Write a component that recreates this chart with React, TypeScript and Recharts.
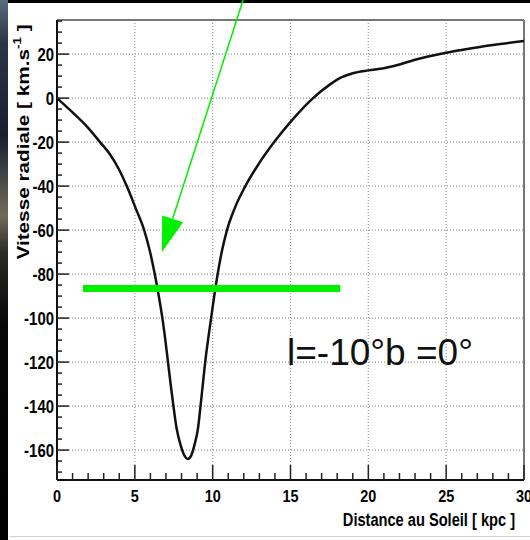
import React from 'react';
import { LineChart, Line, XAxis, YAxis, CartesianGrid, ReferenceLine, Customized } from 'recharts';

// Distance au Soleil (kpc)
const distance = [
  0, 1.0, 2.0, 2.76, 3.4, 3.95, 4.48, 5.05, 5.6, 5.98, 6.28, 6.54, 6.77, 6.96, 7.13, 7.3, 7.48, 7.68, 7.95, 8.15, 8.4,
  8.62, 8.82, 9.06, 9.22, 9.37, 9.52, 9.7, 9.9, 10.1, 10.32, 10.58, 10.92, 11.42, 12.1, 12.95, 13.95, 15.1, 16.45,
  17.5, 18.3, 19.0, 20.0, 21.0, 22.0, 23.0, 25.0, 28.0, 30,
];
// Vitesse radiale (km/s)
const velocity = [
  0, -6.5, -13.5, -20, -25.5, -32, -40, -50, -60, -70, -80, -90, -100, -110, -120, -130, -140, -150, -158, -162, -164,
  -162.5, -158, -150, -140, -130, -120, -110, -100, -90, -80, -70, -60, -50, -40, -30, -20, -10, 0,
  6, 9.5, 11.3, 12.6, 13.6, 15.3, 17.4, 20.6, 24.1, 26,
];

const xTicks = Array.from({ length: 31 }, (_, i) => i);
const yTicks = [35, 30, 25, 20, 15, 10, 5, 0, -5, -10, -15, -20, -25, -30, -35, -40, -45, -50, -55, -60, -65, -70, -75, -80, -85, -90, -95, -100, -105, -110, -115, -120, -125, -130, -135, -140, -145, -150, -155, -160, -165, -170];
const xGrid = [5, 10, 15, 20, 25];
const yGrid = [20, 0, -20, -40, -60, -80, -100, -120, -140, -160];
const X_DOMAIN: [number, number] = [0, 30];
const Y_DOMAIN: [number, number] = [-173.6, 35.5];

const markerSegment = [{ x: 1.67, y: -86.6 }, { x: 18.2, y: -86.6 }];
const arrowSegment = [{ x: 11.95, y: 44.5 }, { x: 6.74, y: -70 }];
const annotation = 'l=-10°b =0°';

const data = distance.map((d, i) => ({ x: d, v: velocity[i] }));

const FONT = "'Liberation Sans', Arial, Helvetica, sans-serif";

const YTick = (props: any) => {
  const { x, y, payload } = props;
  const v = payload.value;
  const major = v % 20 === 0;
  return (
    <g>
      <line x1={x} x2={x + (major ? 12 : 5)} y1={y} y2={y} stroke="#222" strokeWidth={1.5} />
      {major && (
        <text transform={`translate(${x - 3},${y + 6.5}) scale(0.83,1)`} textAnchor="end" fontSize={18} fontWeight="bold" fontFamily={FONT} fill="#000">
          {v}
        </text>
      )}
    </g>
  );
};

const XTick = (props: any) => {
  const { x, y, payload } = props;
  const v = payload.value;
  const major = v % 5 === 0;
  return (
    <g>
      <line x1={x} x2={x} y1={y} y2={y - (major ? 15 : 7)} stroke="#222" strokeWidth={1.5} />
      {major && (
        <text transform={`translate(${x},${y + 22}) scale(0.85,1)`} textAnchor="middle" fontSize={17} fontWeight="bold" fontFamily={FONT} fill="#000">
          {v}
        </text>
      )}
    </g>
  );
};

const ArrowShape = (props: any) => {
  const { x1, y1, x2, y2 } = props;
  const dx = x2 - x1;
  const dy = y2 - y1;
  const len = Math.sqrt(dx * dx + dy * dy) || 1;
  const ux = dx / len;
  const uy = dy / len;
  const head = 35;
  const half = 11;
  const bx = x2 - ux * head;
  const by = y2 - uy * head;
  const nx = -uy;
  const ny = ux;
  return (
    <g>
      <line x1={x1} y1={y1} x2={bx} y2={by} stroke="#00f000" strokeWidth={1.5} />
      <polygon points={`${x2},${y2} ${bx + nx * half},${by + ny * half} ${bx - nx * half},${by - ny * half}`} fill="#00f000" />
    </g>
  );
};

const Titles = () => (
  <g>
    <text transform="translate(515,526) scale(0.77,1)" textAnchor="end" fontSize={19} fontWeight="bold" fontFamily={FONT} fill="#000">
      Distance au Soleil  [ kpc ]
    </text>
    <text transform="translate(29,142) rotate(-90) scale(1.22,1)" textAnchor="middle" fontSize={17} fontWeight="bold" fontFamily={FONT} fill="#000">
      Vitesse radiale  [ km.s
      <tspan dy={-8} fontSize={11}>-1</tspan>
      <tspan dy={8}> ]</tspan>
    </text>
    <text x={287} y={365} fontSize={37} fontFamily={FONT} fill="#111">
      {annotation}
    </text>
  </g>
);

export default function App() {
  return (
    <div style={{ position: 'absolute', left: 0, top: 0, width: 530, height: 540, background: '#fff', overflow: 'hidden' }}>
      <div
        style={{
          position: 'absolute', left: 0, top: 0, width: 8, height: 540,
          background: 'linear-gradient(180deg, #5b6a80 0%, #2a3548 8%, #18202e 25%, #6f6c5a 40%, #2a2a26 47%, #080808 60%, #000 100%)',
        }}
      />
      <div style={{ position: 'absolute', left: 8, top: 0, width: 522, height: 3, background: '#000' }} />
      <div style={{ position: 'absolute', left: 10, top: 536, width: 520, height: 1, background: '#d0d0d0' }} />
      <div style={{ position: 'absolute', left: 0, top: 0 }}>
        <LineChart width={530} height={540} data={data} margin={{ top: 20, right: 6, bottom: 0, left: 0 }}>
          <CartesianGrid horizontalValues={yGrid} verticalValues={xGrid} stroke="#999" strokeDasharray="1 2" strokeWidth={1.2} />
          <XAxis
            dataKey="x" type="number" domain={X_DOMAIN} ticks={xTicks} allowDataOverflow interval={0}
            height={60} tickSize={0} tickMargin={0} tick={<XTick />}
            axisLine={{ stroke: '#111', strokeWidth: 2 }} tickLine={false}
          />
          <YAxis
            type="number" domain={Y_DOMAIN} ticks={yTicks} allowDataOverflow interval={0}
            width={57} tickSize={0} tickMargin={0} tick={<YTick />}
            axisLine={{ stroke: '#111', strokeWidth: 2 }} tickLine={false}
          />
          <ReferenceLine y={Y_DOMAIN[1]} stroke="#777" strokeWidth={2} ifOverflow="visible" />
          <ReferenceLine x={X_DOMAIN[1]} stroke="#777" strokeWidth={2} ifOverflow="visible" />
          <Line dataKey="v" type="monotone" stroke="#111" strokeWidth={2.5} dot={false} isAnimationActive={false} />
          <ReferenceLine segment={markerSegment} stroke="#00f000" strokeWidth={7} ifOverflow="visible" />
          <ReferenceLine segment={arrowSegment} ifOverflow="visible" shape={ArrowShape} />
          <Customized component={Titles} />
        </LineChart>
      </div>
    </div>
  );
}
